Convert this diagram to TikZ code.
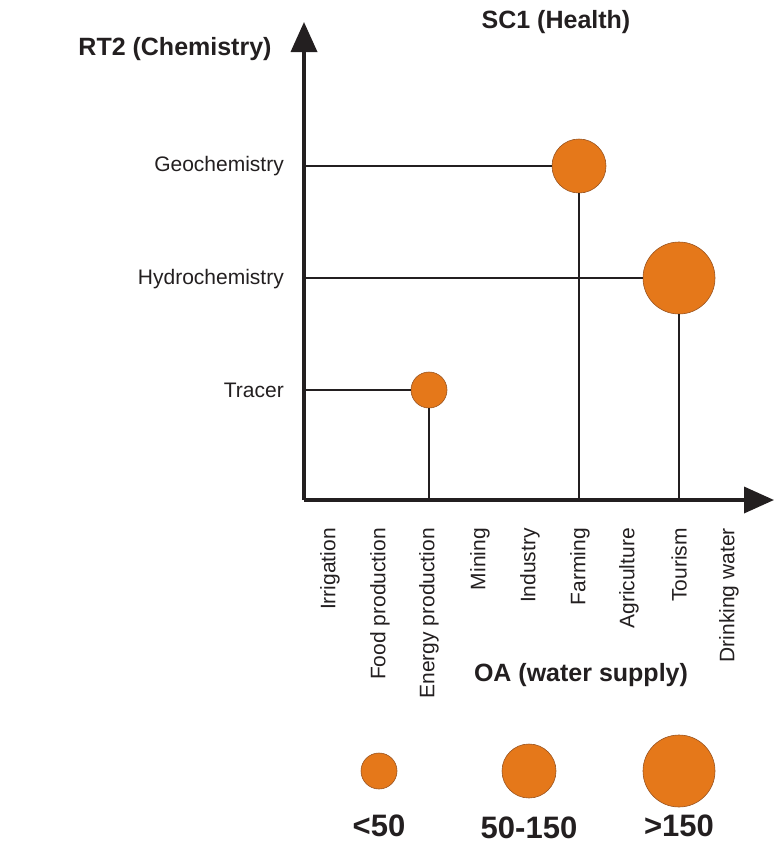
\documentclass[tikz,border=0pt]{standalone}
\usepackage{fontspec}
\setmainfont{Liberation Sans}
\usetikzlibrary{arrows.meta}
\definecolor{dotfill}{HTML}{E5781A}
\definecolor{dotedge}{HTML}{9A5420}
\definecolor{ink}{HTML}{231F20}
\tikzset{
  axis/.style={draw=ink, line width=3.6pt, -{Triangle[length=30pt,width=26pt]}},
  link/.style={draw=ink, line width=1.8pt},
  dot/.style={circle, fill=dotfill, draw=dotedge, line width=0.6pt, inner sep=0pt, minimum size=#1},
  ylab/.style={anchor=east, inner sep=0pt, font=\fontsize{21}{23}\selectfont, text=ink},
  xlab/.style={anchor=east, inner sep=0pt, rotate=90, font=\fontsize{21}{23}\selectfont, text=ink},
  title/.style={font=\fontsize{25}{28}\selectfont\bfseries, text=ink},
  leg/.style={font=\fontsize{31}{34}\selectfont\bfseries, text=ink}
}
\begin{document}
\begin{tikzpicture}[x=1pt, y=-1pt]
\useasboundingbox (0,0) rectangle (774,849);
% axes
\coordinate (O) at (304,500);
\coordinate (ytop) at (304,22);
\coordinate (xend) at (774,500);
\draw[axis] (O) -- (ytop);
\draw[axis] (O) -- (xend);
% titles
\node[title] (rt2) at (175,49) {RT2 (Chemistry)};
\node[title] (sc1) at (556,22) {SC1 (Health)};
\node[title, font=\fontsize{25}{28}\selectfont\bfseries] (oa) at (581,675) {OA (water supply)};
% y labels
\node[ylab] (geo) at (284,166) {Geochemistry};
\node[ylab] (hyd) at (284,279) {Hydrochemistry};
\node[ylab] (tra) at (284,390) {Tracer};
% x labels
\node[xlab] (x1) at (330,528) {Irrigation};
\node[xlab] (x2) at (380,528) {Food production};
\node[xlab] (x3) at (429,528) {Energy production};
\node[xlab] (x4) at (480,528) {Mining};
\node[xlab] (x5) at (530,528) {Industry};
\node[xlab] (x6) at (580,528) {Farming};
\node[xlab] (x7) at (629,528) {Agriculture};
\node[xlab] (x8) at (679,528) {Tourism};
\node[xlab] (x9) at (729,528) {Drinking water};
% axis anchor coordinates
\coordinate (yg) at (304,166);
\coordinate (yh) at (304,278);
\coordinate (yt) at (304,390);
\coordinate (xe) at (429,500);
\coordinate (xf) at (579,500);
\coordinate (xt) at (679,500);
% dots
\node[dot=54pt] (cgeo) at (579,166) {};
\node[dot=72pt] (chyd) at (679,278) {};
\node[dot=36pt] (ctra) at (429,390) {};
% connectors
\draw[link] (yg) -- (cgeo.west);
\draw[link] (cgeo.south) -- (xf);
\draw[link] (yh) -- (chyd.west);
\draw[link] (chyd.south) -- (xt);
\draw[link] (yt) -- (ctra.west);
\draw[link] (ctra.south) -- (xe);
% legend
\node[dot=36pt] (l1) at (379,771) {};
\node[dot=54pt] (l2) at (529,771) {};
\node[dot=72pt] (l3) at (679,771) {};
\node[leg] (t1) at (379,826) {<50};
\node[leg] (t2) at (529,828) {50-150};
\node[leg] (t3) at (679,826) {>150};
\end{tikzpicture}
\end{document}
